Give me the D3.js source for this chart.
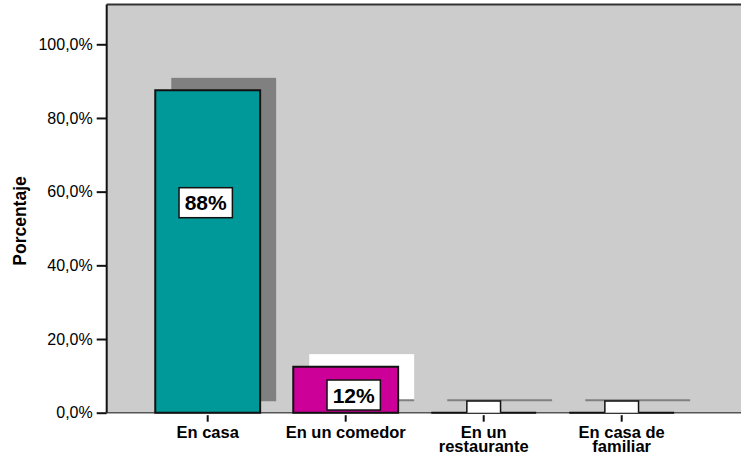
<!DOCTYPE html>
<html>
<head>
<meta charset="utf-8">
<script src="https://cdn.jsdelivr.net/npm/d3@7/dist/d3.min.js"></script>
<style>
  html, body { margin: 0; padding: 0; background: #ffffff; }
  svg { display: block; }
  text { font-family: "Liberation Sans", Arial, sans-serif; fill: #000; }
</style>
</head>
<body>
<svg id="chart" width="741" height="455"></svg>
<script>
// ---- data ----
const categories = ["En casa", "En un comedor", "En un restaurante", "En casa de familiar"];
const categoryLines = [["En casa"], ["En un comedor"], ["En un", "restaurante"], ["En casa de", "familiar"]];
const values = [87.5, 12.5, 0, 0];
const valueLabels = ["88%", "12%", "0%", "0%"];
const yTicks = [0, 20, 40, 60, 80, 100];
const yTitle = "Porcentaje";

// ---- styles / layout ----
const barColors = ["#009999", "#cc0099", "#009999", "#009999"];
const shadowColors = ["#808080", "#ffffff", "#808080", "#808080"];
const labelAnchor = [57, 4.8, -0.9, -0.9];   // label centre, in value units
const labelShift = [-2, 8, 0, 0];            // label x shift, px

const plot = { left: 106.7, top: 4.5, right: 760, bottom: 412.7 };
const shadowDx = 16, shadowDy = -12.5;

const svg = d3.select("#chart");

const x = d3.scaleBand()
  .domain(categories)
  .range([138.7, 690.7])
  .paddingInner(0.24)
  .paddingOuter(0.12);

const y = d3.scaleLinear()
  .domain([0, 110.8])
  .range([plot.bottom, plot.top]);

// plot background
svg.append("rect")
  .attr("x", plot.left).attr("y", plot.top)
  .attr("width", plot.right - plot.left).attr("height", plot.bottom - plot.top)
  .attr("fill", "#cccccc");

svg.append("defs").append("clipPath").attr("id", "plotClip")
  .append("rect")
  .attr("x", plot.left).attr("y", plot.top)
  .attr("width", plot.right - plot.left).attr("height", plot.bottom - plot.top);

// baseline
svg.append("line")
  .attr("x1", plot.left).attr("x2", plot.right)
  .attr("y1", y(0)).attr("y2", y(0))
  .attr("stroke", "#555").attr("stroke-width", 1.5);

const bw = x.bandwidth();

// shadows
const shadows = svg.append("g").attr("clip-path", "url(#plotClip)");
categories.forEach((c, i) => {
  const x0 = x(c) + shadowDx;
  const yTop = y(values[i]) + shadowDy;
  const yBot = y(0) + shadowDy;
  if (yBot - yTop > 0) {
    shadows.append("rect")
      .attr("x", x0).attr("y", yTop)
      .attr("width", bw).attr("height", yBot - yTop)
      .attr("fill", shadowColors[i]);
  }
  shadows.append("line")
    .attr("x1", x0).attr("x2", x0 + bw)
    .attr("y1", yBot).attr("y2", yBot)
    .attr("stroke", "#808080").attr("stroke-width", 2);
});

// bars
const bars = svg.append("g");
categories.forEach((c, i) => {
  const p = d3.path();
  const x0 = x(c), x1 = x(c) + bw, y0 = y(0), y1 = y(values[i]);
  p.moveTo(x0, y0); p.lineTo(x0, y1); p.lineTo(x1, y1); p.lineTo(x1, y0); p.closePath();
  bars.append("path")
    .attr("d", p.toString())
    .attr("fill", barColors[i])
    .attr("stroke", "#111")
    .attr("stroke-width", 2)
    .attr("stroke-linejoin", "miter");
});

// value labels (labels of zero-height bars sit below the baseline and are clipped away;
// only the top of their box remains visible, as in the reference)
const labels = svg.append("g").attr("clip-path", "url(#plotClip)");
categories.forEach((c, i) => {
  const cx = x(c) + bw / 2 + labelShift[i];
  const cy = y(labelAnchor[i]);
  const g = labels.append("g");
  const box = g.append("rect");
  const t = g.append("text")
    .attr("x", cx).attr("y", cy).attr("dy", "0.36em")
    .attr("text-anchor", "middle")
    .attr("font-size", 21).attr("font-weight", "bold")
    .text(valueLabels[i]);
  const bb = t.node().getBBox();
  const bwid = values[i] > 0 ? bb.width + 11 : bb.width + 3;
  const bh = 30;
  box.attr("x", cx - bwid / 2).attr("y", cy - bh / 2)
    .attr("width", bwid).attr("height", bh)
    .attr("fill", "#fff").attr("stroke", "#111").attr("stroke-width", 1.5);
  if (values[i] <= 0) t.remove();
});

// top border
svg.append("line")
  .attr("x1", plot.left).attr("x2", plot.right)
  .attr("y1", plot.top).attr("y2", plot.top)
  .attr("stroke", "#333").attr("stroke-width", 2);

// y axis
const yAxis = svg.append("g")
  .attr("transform", `translate(${plot.left},0)`)
  .call(d3.axisLeft(y).tickValues(yTicks).tickSize(10).tickPadding(4)
    .tickFormat(d => d3.format(".1f")(d).replace(".", ",") + "%"));
yAxis.select(".domain").attr("stroke", "#111").attr("stroke-width", 2)
  .attr("d", `M0,${plot.top}V${plot.bottom}`);
yAxis.selectAll(".tick line").attr("stroke", "#111").attr("stroke-width", 2);
yAxis.selectAll(".tick text")
  .attr("font-size", 16)
  .attr("font-family", "'Liberation Sans', Arial, sans-serif")
  .attr("fill", "#111");

// x axis ticks and labels
const xAxis = svg.append("g");
categories.forEach((c, i) => {
  const cx = x(c) + bw / 2;
  xAxis.append("line")
    .attr("x1", cx).attr("x2", cx)
    .attr("y1", y(0) + 2.5).attr("y2", y(0) + 9)
    .attr("stroke", "#111").attr("stroke-width", 2);
  categoryLines[i].forEach((ln, j) => {
    xAxis.append("text")
      .attr("x", cx).attr("y", 438 + j * 13.5)
      .attr("text-anchor", "middle")
      .attr("font-size", 16.5).attr("font-weight", "bold")
      .text(ln);
  });
});

// y title
svg.append("text")
  .attr("transform", `translate(26,221) rotate(-90)`)
  .attr("text-anchor", "middle")
  .attr("font-size", 17.5).attr("font-weight", "bold")
  .text(yTitle);
</script>
</body>
</html>
